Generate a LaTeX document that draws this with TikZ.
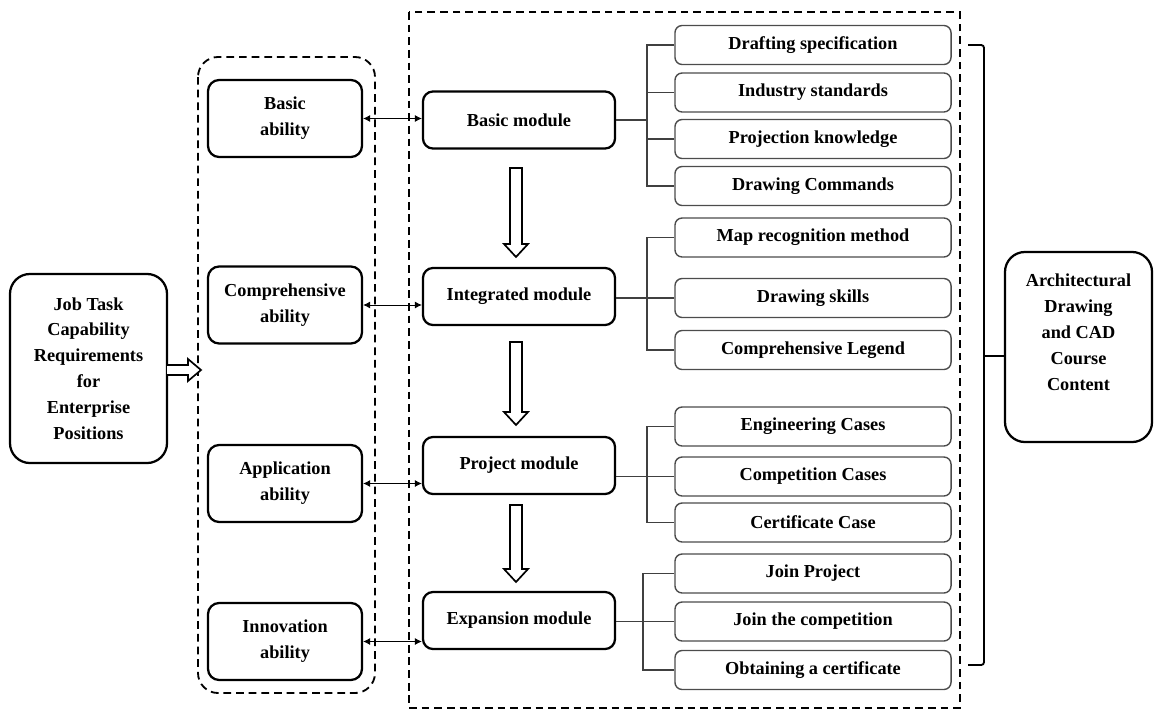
\documentclass[tikz,border=0pt]{standalone}
\usepackage{fontspec}
\setmainfont{Liberation Serif}
\usetikzlibrary{arrows.meta}

\begin{document}
\begin{tikzpicture}[
    x=0.025cm, y=-0.025cm, % one unit is one pixel of the sketch
    every node/.style={font=\bfseries\fontsize{13}{18.4}\selectfont, align=center},
    bigbox/.style={draw, line width=1.6pt, rounded corners=0.5cm, minimum width=3.925cm, minimum height=4.725cm},
    ability/.style={draw, line width=1.6pt, rounded corners=0.28cm, minimum width=3.85cm, minimum height=1.925cm},
    module/.style={draw, line width=1.6pt, rounded corners=0.25cm, minimum width=4.8cm, minimum height=1.425cm},
    item/.style={draw=black!70, line width=1pt, rounded corners=0.18cm, minimum width=6.9cm, minimum height=0.975cm, inner sep=0pt},
    group/.style={draw, line width=1.3pt, dash pattern=on 5.5pt off 3.5pt},
    link/.style={{Latex[length=5pt,width=5pt]}-{Latex[length=5pt,width=5pt]}, line width=0.6pt},
    tree/.style={draw=black!75, line width=0.8pt},
    hollow/.style={draw, line width=1.2pt, line join=miter, fill=white},
    brace/.style={draw, line width=1.3pt, rounded corners=2pt}
]
\useasboundingbox (0,0) rectangle (1156,711);

% Groups
\draw[group, rounded corners=0.5cm] (198,57) rectangle (375,693);
\draw[group] (409,12) rectangle (960,708);

% Nodes
\node[bigbox] (job) at (88.5,368.5) {Job Task\\Capability\\Requirements\\for\\Enterprise\\Positions};

\node[ability] (ba) at (285,118.5) {Basic\\ability};
\node[ability] (ca) at (285,305) {Comprehensive\\ability};
\node[ability] (aa) at (285,483.5) {Application\\ability};
\node[ability] (ia) at (285,641.5) {Innovation\\ability};

\node[module] (bm) at (519,120) {Basic module};
\node[module] (im) at (519,296.5) {Integrated module};
\node[module] (pm) at (519,465.5) {Project module};
\node[module] (em) at (519,620.5) {Expansion module};

\foreach \n/\y/\t in {1/45/Drafting specification, 2/92.5/Industry standards,
    3/139/Projection knowledge, 4/186/Drawing Commands,
    5/237.5/Map recognition method, 6/298/Drawing skills, 7/350/Comprehensive Legend,
    8/426.5/Engineering Cases, 9/476.5/Competition Cases, 10/522.5/Certificate Case,
    11/573.5/Join Project, 12/621.5/Join the competition, 13/670/Obtaining a certificate}
  \node[item] (i\n) at (813,\y) {\t};

\node[bigbox, minimum width=3.675cm, minimum height=4.75cm] (course) at (1078.5,347)
  {Architectural\\Drawing\\and CAD\\Course\\Content\\[2.6pt]\mbox{}};

\coordinate (t1) at (647,0);
\coordinate (t4) at (643,0);
\coordinate (bt) at (968,45);
\coordinate (bb) at (968,665);
\coordinate (br) at (984,356);

% Edges
\draw[hollow] (167,365) -- (188,365) -- (188,359) -- (201,370) -- (188,381) -- (188,375) -- (167,375);
\foreach \t/\b in {168/257, 342/425, 505/582}
  \draw[hollow] (510,\t) -- (522,\t) -- (522,\b-13) -- (528,\b-13) -- (516,\b)
    -- (504,\b-13) -- (510,\b-13) -- cycle;

\foreach \a/\m in {ba/bm, ca/im, aa/pm, ia/em}
  \draw[link] (\a.east) -- (\a.east -| \m.west);

\draw[tree] (bm.east) -- (bm.east -| t1);
\draw[tree] (i1.west) -- (i1.west -| t1) -- (i4.west -| t1) -- (i4.west);
\foreach \n in {2,3}
  \draw[tree] (i\n.west) -- (i\n.west -| t1);

\draw[tree] (i6.west) -- (i6.west -| im.east);
\draw[tree] (i5.west) -- (i5.west -| t1) -- (i7.west -| t1) -- (i7.west);

\draw[tree] (i9.west) -- (i9.west -| pm.east);
\draw[tree] (i8.west) -- (i8.west -| t1) -- (i10.west -| t1) -- (i10.west);

\draw[tree] (i12.west) -- (i12.west -| em.east);
\draw[tree] (i11.west) -- (i11.west -| t4) -- (i13.west -| t4) -- (i13.west);

\draw[brace] (bt) -| (br) |- (bb);
\draw[brace, rounded corners=0pt] (br) -- (br -| course.west);

\end{tikzpicture}
\end{document}
